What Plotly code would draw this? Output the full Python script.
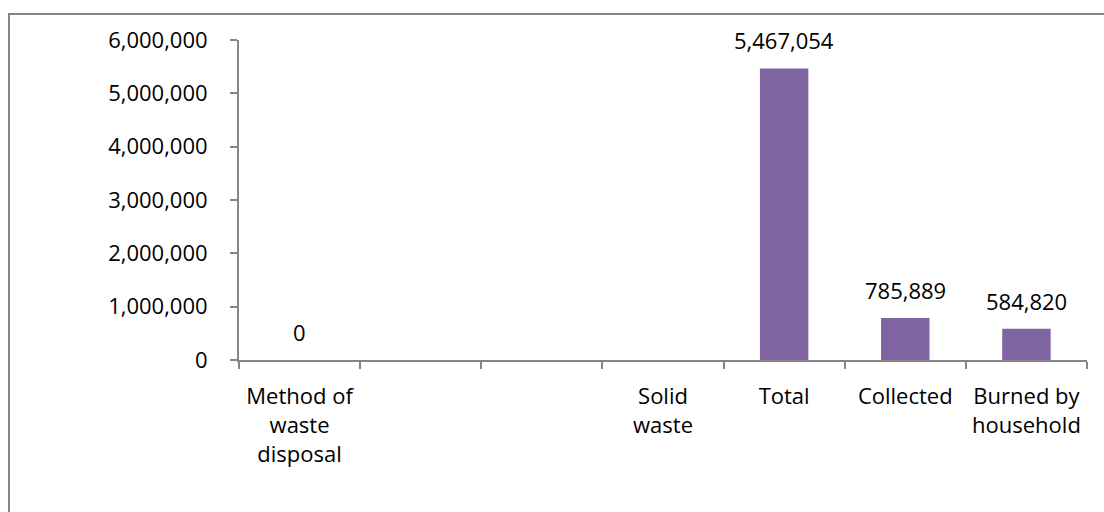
import plotly.graph_objects as go

# Categories on the x axis (blank entries are empty slots in the source table)
categories = ["Method of<br>waste<br>disposal", " ", "  ", "Solid<br>waste",
              "Total", "Collected", "Burned by<br>household"]
values = [0, None, None, None, 5467054, 785889, 584820]
y_ticks = [0, 1000000, 2000000, 3000000, 4000000, 5000000, 6000000]

BAR = "#8064A2"
AXIS = "#868686"
FONT = "Open Sans"
FS = 22

fig = go.Figure()
fig.add_trace(go.Bar(
    x=categories, y=values,
    width=0.4,
    marker=dict(color=BAR, line=dict(width=0)),
    hoverinfo="skip",
))

# Value labels above each bar
for c, v in zip(categories, values):
    if v is None:
        continue
    fig.add_annotation(
        x=c, y=v, xref="x", yref="y",
        text=f"{v:,}", showarrow=False,
        yanchor="bottom", yshift=11,
        font=dict(family=FONT, size=FS, color="#000000"),
    )

# Outer chart frame
fig.add_shape(type="rect", xref="paper", yref="paper",
              x0=(9 - 239) / 848, x1=(1112 - 239) / 848,
              y0=(360 - 530) / 320, y1=(360 - 14) / 320,
              line=dict(color=AXIS, width=2), fillcolor="rgba(0,0,0,0)",
              layer="below")

fig.update_layout(
    width=1104, height=512,
    margin=dict(l=239, r=17, t=40, b=152),
    paper_bgcolor="white", plot_bgcolor="white",
    showlegend=False,
    font=dict(family=FONT, size=FS, color="#000000"),
)
fig.update_xaxes(
    type="category", categoryorder="array", categoryarray=categories,
    showline=True, linecolor=AXIS, linewidth=2,
    ticks="outside", tickson="boundaries", ticklen=7, tickcolor=AXIS, tickwidth=2,
    ticklabelstandoff=16, tickangle=0, automargin=False,
    showgrid=False, zeroline=False, fixedrange=True,
    tickfont=dict(family=FONT, size=FS, color="#000000"),
)
fig.update_yaxes(
    range=[0, 6000000], tickvals=y_ticks, tickformat=",",
    showline=True, linecolor=AXIS, linewidth=2,
    ticks="outside", ticklen=7, tickcolor=AXIS, tickwidth=2,
    ticklabelstandoff=18, automargin=False,
    showgrid=False, zeroline=False, fixedrange=True,
    tickfont=dict(family=FONT, size=FS, color="#000000"),
)

fig.write_html("out.html")
